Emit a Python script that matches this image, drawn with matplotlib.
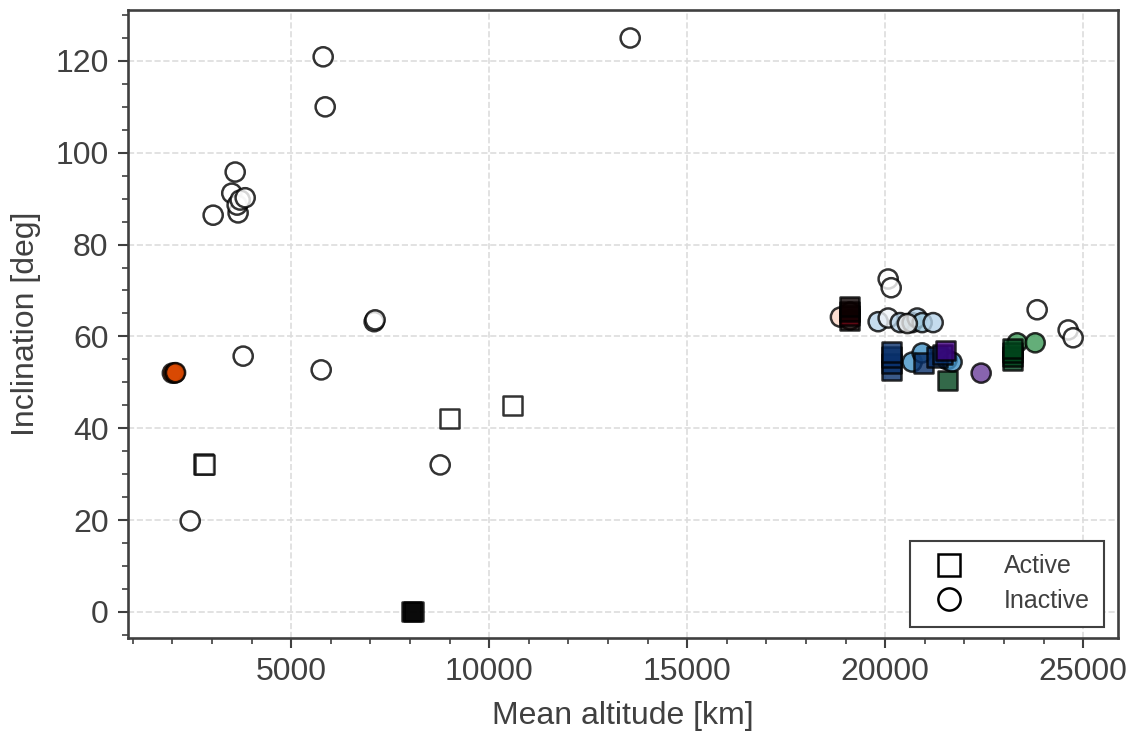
import matplotlib
matplotlib.use("Agg")
import matplotlib.pyplot as plt
from matplotlib.lines import Line2D
from matplotlib.ticker import MultipleLocator

plt.rcParams['font.family'] = ['Liberation Sans', 'DejaVu Sans']

# active objects (squares)
act_alt = [2780, 2810, 8990, 10580, 8030, 8080,
           19090, 19090, 19090, 19090,
           20150, 20150, 20150, 20150, 20960, 21310, 21450,
           21515, 21565,
           23210, 23210, 23210, 23210]
act_inc = [32.2, 32.0, 42.2, 44.9, 0.1, 0.0,
           63.5, 64.5, 65.5, 66.5,
           52.5, 54.0, 55.5, 56.6, 54.2, 55.5, 56.0,
           57.0, 50.3,
           54.7, 55.6, 56.5, 57.3]
act_col = ["white", "white", "white", "white", "black", "black",
           "#0a0000", "#67000d", "#0a0000", "#0a0000",
           "#08306b", "#08306b", "#08306b", "#08306b", "#08306b", "#08306b", "#08306b",
           "#3f007d", "#00441b",
           "#00441b", "#00441b", "#00441b", "#00441b"]

# inactive objects (circles)
ina_alt = [2450, 3030, 3500, 3586, 3660, 3636, 3712, 3838, 3788,
           5808, 5859, 5758, 7096, 7120, 8763, 13561,
           2000, 2060, 2080,
           18870, 19116, 19116,
           20076, 20152, 19823, 20076, 20378, 20682, 20808, 20934, 21212, 20560,
           20682, 20934, 21565, 21690,
           22424, 23333, 23788,
           23838, 24621, 24747]
ina_inc = [19.8, 86.4, 91.2, 95.8, 86.9, 88.6, 89.7, 90.2, 55.7,
           120.9, 110.0, 52.7, 63.2, 63.6, 32.0, 125.0,
           52.0, 52.0, 52.1,
           64.2, 65.3, 63.6,
           72.5, 70.6, 63.2, 64.0, 63.0, 63.0, 64.0, 63.0, 63.0, 62.8,
           54.4, 56.4, 54.9, 54.4,
           52.0, 58.6, 58.6,
           65.8, 61.4, 59.7]
ina_col = ["white"] * 16 + \
          ["#d94801", "#d94801", "#d94801"] + \
          ["#fcd5c5", "#f7ece8", "#fde0dd"] + \
          ["white", "white", "#b7d4ea", "#f0f5fa", "#b7d4ea", "#9ecae1", "#b7d4ea", "#9ecae1", "#b7d4ea", "#e8e8e8"] + \
          ["#4292c6", "#4292c6", "#4292c6", "#4292c6"] + \
          ["#6a3d9a", "#3d9a58", "#3d9a58"] + \
          ["white", "white", "white"]

fig, ax = plt.subplots(figsize=(11.37, 7.35), dpi=100)
fig.subplots_adjust(left=0.1126, right=0.9833, top=0.9864, bottom=0.132)

ax.grid(True, color="#dddddd", linestyle="--", linewidth=1.2)
ax.set_axisbelow(True)

ax.scatter(ina_alt, ina_inc, s=190, c=ina_col, marker="o", edgecolors="black",
           linewidths=1.8, alpha=0.8, zorder=3)
ax.scatter(act_alt, act_inc, s=190, c=act_col, marker="s", edgecolors="black",
           linewidths=1.8, alpha=0.8, zorder=4)

ax.set_xlim(880, 25880)
ax.set_ylim(-5.7, 131.1)
ax.xaxis.set_major_locator(MultipleLocator(5000))
ax.xaxis.set_minor_locator(MultipleLocator(1000))
ax.yaxis.set_major_locator(MultipleLocator(20))
ax.yaxis.set_minor_locator(MultipleLocator(5))

tc = "#404040"
for sp in ax.spines.values():
    sp.set_linewidth(1.9)
    sp.set_color(tc)
ax.tick_params(which="major", length=7, width=1.5, color=tc, labelcolor=tc, labelsize=23,
               direction="out", pad=7)
ax.tick_params(which="minor", length=4, width=1.2, color=tc, direction="out")

ax.set_xlabel("Mean altitude [km]", fontsize=23, color=tc, labelpad=10)
ax.set_ylabel("Inclination [deg]", fontsize=23, color=tc, labelpad=10)

handles = [Line2D([], [], marker="s", linestyle="", markerfacecolor="white", markeredgecolor="black",
                  markersize=16, markeredgewidth=1.8, label="Active"),
           Line2D([], [], marker="o", linestyle="", markerfacecolor="white", markeredgecolor="black",
                  markersize=16, markeredgewidth=1.8, label="Inactive")]
leg = ax.legend(handles=handles, loc="lower right", fontsize=18, fancybox=False, framealpha=1,
                edgecolor=tc, borderpad=0.55, handletextpad=1.2, labelspacing=0.42,
                bbox_to_anchor=(0.998, -0.002))
leg.get_frame().set_linewidth(1.5)
for t in leg.get_texts():
    t.set_color(tc)

fig.savefig("out.png", dpi=100)
